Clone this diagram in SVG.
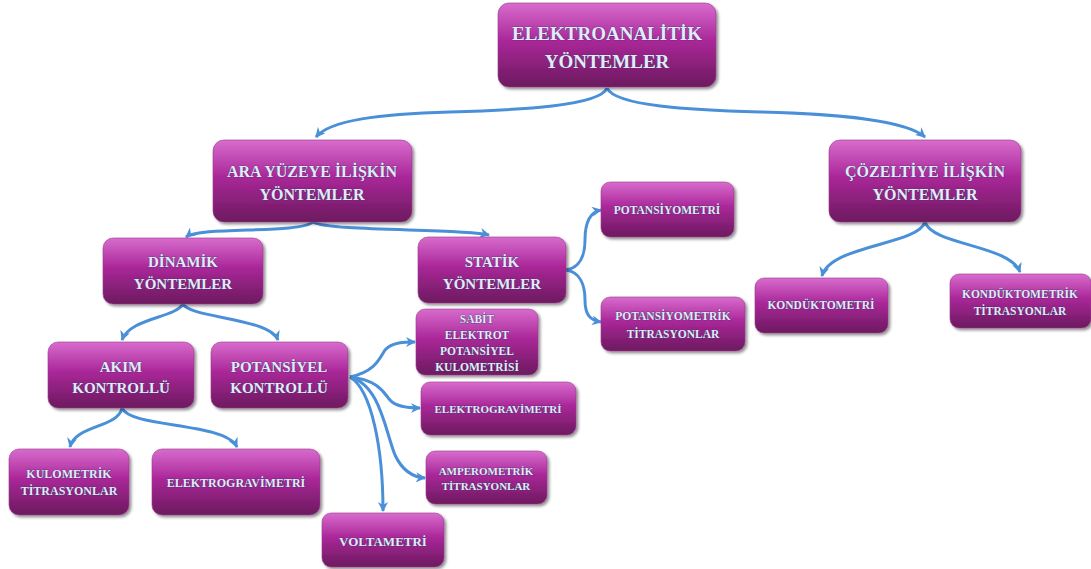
<svg xmlns="http://www.w3.org/2000/svg" width="1091" height="569" viewBox="0 0 1091 569">
<defs>
<linearGradient id="g" x1="0" y1="0" x2="0" y2="1">
<stop offset="0" stop-color="#d86ccd"/>
<stop offset="0.45" stop-color="#aa2799"/>
<stop offset="1" stop-color="#6c1a5e"/>
</linearGradient>
<filter id="sh" x="-10%" y="-10%" width="125%" height="130%">
<feGaussianBlur in="SourceAlpha" stdDeviation="1.5"/>
<feOffset dx="1.5" dy="2" result="o"/>
<feComponentTransfer><feFuncA type="linear" slope="0.45"/></feComponentTransfer>
<feMerge><feMergeNode/><feMergeNode in="SourceGraphic"/></feMerge>
</filter>
<marker id="ah" viewBox="0 0 10 10" refX="9" refY="5" markerWidth="10" markerHeight="10" markerUnits="userSpaceOnUse" orient="auto">
<path d="M0,0 L10,5 L0,10 L3,5 Z" fill="#4a90d8"/>
</marker>
</defs>
<style>
.box{fill:url(#g);stroke:#9a3a8f;stroke-width:0.6;filter:url(#sh)}
text{font-family:"Liberation Serif","Times New Roman",serif;font-weight:bold;fill:#e2ebf9;stroke:#3c3566;stroke-width:0.7;paint-order:stroke;text-anchor:middle}
.c{fill:none;stroke:#4a90d8;stroke-width:3;marker-end:url(#ah)}
</style>
<g id="connectors">
<path class="c" d="M607,88 C600,106 520,110 450,112 C380,114 330,120 316,137"/>
<path class="c" d="M607,88 C615,106 690,110 760,112 C840,114 905,120 925,137"/>
<path class="c" d="M313,222 C300,234 200,226 186,237"/>
<path class="c" d="M313,222 C330,232 460,228 489,235"/>
<path class="c" d="M566,270 C580,268 585,255 585,240 C585,222 590,212 601,210"/>
<path class="c" d="M566,270 C580,272 585,285 585,300 C585,315 590,320 601,322"/>
<path class="c" d="M183,304 C175,318 130,318 122,340"/>
<path class="c" d="M183,304 C190,318 270,318 278,340"/>
<path class="c" d="M122,408 C118,428 75,425 70,447"/>
<path class="c" d="M122,408 C130,428 225,422 237,447"/>
<path class="c" d="M350,377 C375,372 380,358 385,350 C392,342 405,342 415,342"/>
<path class="c" d="M350,377 C380,380 385,395 390,400 C395,406 405,408 420,408"/>
<path class="c" d="M350,377 C380,385 385,430 395,455 C402,470 412,477 425,478"/>
<path class="c" d="M350,377 C372,390 383,450 383,511"/>
<path class="c" d="M925,222 C918,245 830,245 822,276"/>
<path class="c" d="M925,222 C932,245 1010,245 1020,272"/>
</g>
<g id="n-root"><rect class="box" x="498" y="3" width="218" height="84" rx="11"/>
<text x="607" y="40" font-size="19">ELEKTROANALİTİK</text><text x="607" y="68" font-size="19">YÖNTEMLER</text></g>
<g id="n-ara"><rect class="box" x="213" y="140" width="199" height="82" rx="11"/>
<text x="312" y="177" font-size="16">ARA YÜZEYE İLİŞKİN</text><text x="312" y="200" font-size="16">YÖNTEMLER</text></g>
<g id="n-coz"><rect class="box" x="829" y="140" width="192" height="82" rx="11"/>
<text x="925" y="177" font-size="16">ÇÖZELTİYE İLİŞKİN</text><text x="925" y="200" font-size="16">YÖNTEMLER</text></g>
<g id="n-dinamik"><rect class="box" x="103" y="238" width="160" height="66" rx="10"/>
<text x="183" y="267" font-size="15">DİNAMİK</text><text x="183" y="289" font-size="15">YÖNTEMLER</text></g>
<g id="n-statik"><rect class="box" x="418" y="237" width="148" height="66" rx="10"/>
<text x="492" y="267" font-size="15">STATİK</text><text x="492" y="289" font-size="15">YÖNTEMLER</text></g>
<g id="n-potansiyometri"><rect class="box" x="601" y="182" width="133" height="55" rx="9"/>
<text x="667" y="214" font-size="11.5">POTANSİYOMETRİ</text></g>
<g id="n-potansiyometrik"><rect class="box" x="601" y="297" width="144" height="54" rx="9"/>
<text x="673" y="320" font-size="11.5">POTANSİYOMETRİK</text><text x="673" y="338" font-size="11.5">TİTRASYONLAR</text></g>
<g id="n-kondukto"><rect class="box" x="755" y="278" width="133" height="55" rx="9"/>
<text x="821" y="309" font-size="11.5">KONDÜKTOMETRİ</text></g>
<g id="n-konduktometrik"><rect class="box" x="950" y="274" width="141" height="54" rx="9"/>
<text x="1020" y="298" font-size="11.5">KONDÜKTOMETRİK</text><text x="1020" y="315" font-size="11.5">TİTRASYONLAR</text></g>
<g id="n-akim"><rect class="box" x="48" y="342" width="146" height="66" rx="10"/>
<text x="121" y="372" font-size="15">AKIM</text><text x="121" y="393" font-size="15">KONTROLLÜ</text></g>
<g id="n-potansiyel"><rect class="box" x="211" y="342" width="137" height="66" rx="10"/>
<text x="279" y="372" font-size="15">POTANSİYEL</text><text x="279" y="393" font-size="15">KONTROLLÜ</text></g>
<g id="n-sabit"><rect class="box" x="416" y="309" width="122" height="66" rx="9"/>
<text x="477" y="323" font-size="11.5">SABİT</text><text x="477" y="339" font-size="11.5">ELEKTROT</text><text x="477" y="355" font-size="11.5">POTANSİYEL</text><text x="477" y="371" font-size="11.5">KULOMETRİSİ</text></g>
<g id="n-egrav2"><rect class="box" x="421" y="382" width="155" height="53" rx="9"/>
<text x="498" y="413" font-size="11">ELEKTROGRAVİMETRİ</text></g>
<g id="n-ampero"><rect class="box" x="426" y="451" width="121" height="53" rx="9"/>
<text x="486" y="475" font-size="11">AMPEROMETRİK</text><text x="486" y="490" font-size="11">TİTRASYONLAR</text></g>
<g id="n-kulometrik"><rect class="box" x="9" y="449" width="120" height="66" rx="10"/>
<text x="69" y="478" font-size="12">KULOMETRİK</text><text x="69" y="495" font-size="12">TİTRASYONLAR</text></g>
<g id="n-egrav1"><rect class="box" x="152" y="449" width="168" height="66" rx="10"/>
<text x="236" y="487" font-size="12">ELEKTROGRAVİMETRİ</text></g>
<g id="n-volta"><rect class="box" x="322" y="513" width="122" height="54" rx="9"/>
<text x="383" y="546" font-size="13">VOLTAMETRİ</text></g>
</svg>
